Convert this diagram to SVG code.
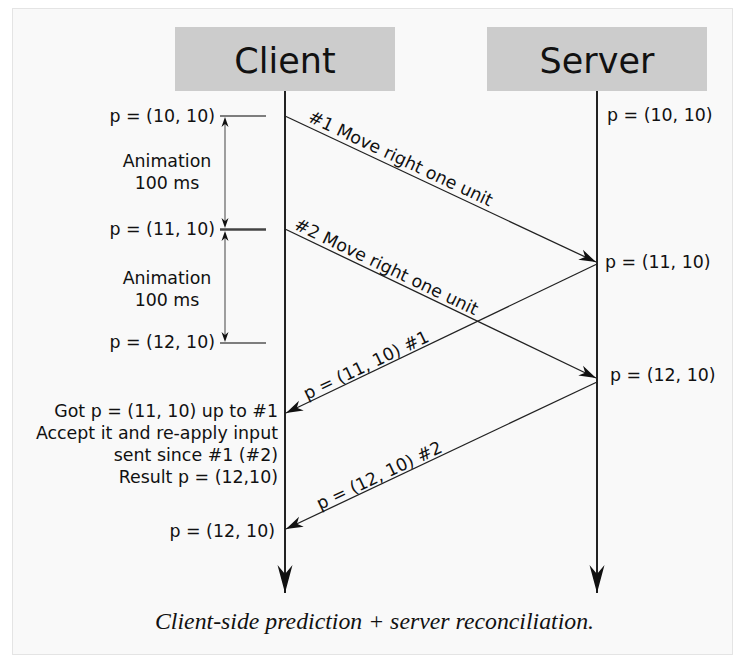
<svg xmlns="http://www.w3.org/2000/svg" width="738" height="658" viewBox="0 0 738 658">
<style>
.t{font-family:"DejaVu Sans",sans-serif;font-size:17.4px;fill:#111}
.h{font-family:"DejaVu Sans",sans-serif;font-size:35px;fill:#111;text-anchor:middle}
.r{text-anchor:end}
.m{text-anchor:middle}
.life{stroke:#222;stroke-width:2;fill:none}
.msg{stroke:#222;stroke-width:1.3;fill:none}
.tick{stroke:#555;stroke-width:1.3}
.dim{stroke:#888;stroke-width:1.6}
</style>
<defs>
<marker id="ah" markerUnits="userSpaceOnUse" viewBox="-18 -6 19 12" refX="0" refY="0" markerWidth="19" markerHeight="12" orient="auto">
<path d="M0,0 L-17,-5.5 L-12,0 L-17,5.5 Z" fill="#111"/>
</marker>
<marker id="big" markerUnits="userSpaceOnUse" viewBox="-28 -8 29 16" refX="0" refY="0" markerWidth="29" markerHeight="16" orient="auto">
<path d="M0,0 L-28,-7.5 L-19,0 L-28,7.5 Z" fill="#111"/>
</marker>
<marker id="sm" markerUnits="userSpaceOnUse" viewBox="-10 -4 11 8" refX="0" refY="0" markerWidth="11" markerHeight="8" orient="auto">
<path d="M0,0 L-10,-3.5 L-7,0 L-10,3.5 Z" fill="#111"/>
</marker>
</defs>
<rect x="0" y="0" width="738" height="658" fill="#fff"/>
<rect x="12.5" y="8.5" width="720" height="646" fill="#f9f9f9" stroke="#ccc" stroke-width="1" stroke-dasharray="1,1"/>

<g id="client">
<rect x="175" y="27" width="220" height="64" fill="#ccc"/>
<text class="h" x="285" y="73">Client</text>
</g>
<g id="server">
<rect x="487" y="27" width="220" height="64" fill="#ccc"/>
<text class="h" x="597" y="73">Server</text>
</g>

<g id="connectors">
<line class="life" x1="285" y1="91" x2="285" y2="593" marker-end="url(#big)"/>
<line class="life" x1="597" y1="91" x2="597" y2="593" marker-end="url(#big)"/>
<line class="msg" x1="285" y1="116" x2="596" y2="262" marker-end="url(#ah)"/>
<line class="msg" x1="285" y1="229" x2="596" y2="378" marker-end="url(#ah)"/>
<line class="msg" x1="597" y1="264" x2="286" y2="413" marker-end="url(#ah)"/>
<line class="msg" x1="597" y1="382" x2="286" y2="529" marker-end="url(#ah)"/>
<line class="tick" x1="220" y1="116" x2="266" y2="116"/>
<line x1="220" y1="229.5" x2="266" y2="229.5" stroke="#444" stroke-width="2.4"/>
<line class="tick" x1="220" y1="343" x2="266" y2="343"/>
<line class="dim" x1="225" y1="123" x2="225" y2="222"/>
<line class="dim" x1="225" y1="236" x2="225" y2="336"/>
<line x1="225" y1="140" x2="225" y2="117" stroke="none" marker-end="url(#sm)"/>
<line x1="225" y1="205" x2="225" y2="228" stroke="none" marker-end="url(#sm)"/>
<line x1="225" y1="253" x2="225" y2="231" stroke="none" marker-end="url(#sm)"/>
<line x1="225" y1="320" x2="225" y2="342" stroke="none" marker-end="url(#sm)"/>
</g>

<g id="labels">
<text class="t r" x="215" y="122">p = (10, 10)</text>
<text class="t r" x="215" y="235">p = (11, 10)</text>
<text class="t r" x="215" y="348">p = (12, 10)</text>
<text class="t m" x="167" y="167">Animation</text>
<text class="t m" x="167" y="189">100 ms</text>
<text class="t m" x="167" y="284">Animation</text>
<text class="t m" x="167" y="306">100 ms</text>
<text class="t" x="607" y="121">p = (10, 10)</text>
<text class="t" x="605" y="268">p = (11, 10)</text>
<text class="t" x="610" y="381">p = (12, 10)</text>
<text class="t r" x="278" y="417">Got p = (11, 10) up to #1</text>
<text class="t r" x="278" y="439">Accept it and re-apply input</text>
<text class="t r" x="278" y="461">sent since #1 (#2)</text>
<text class="t r" x="278" y="483">Result p = (12,10)</text>
<text class="t r" x="275" y="537">p = (12, 10)</text>
<text class="t" x="307" y="121" transform="rotate(25.2 307 121)">#1 Move right one unit</text>
<text class="t" x="293" y="228.5" transform="rotate(25.6 293 228.5)">#2 Move right one unit</text>
<text class="t" x="307" y="400" transform="rotate(-25.6 307 400)">p = (11, 10) #1</text>
<text class="t" x="320" y="510" transform="rotate(-25.3 320 510)">p = (12, 10) #2</text>
</g>

<text x="374.5" y="629" font-family="'Liberation Serif',serif" font-style="italic" font-size="23" fill="#111" text-anchor="middle" textLength="439" lengthAdjust="spacingAndGlyphs">Client-side prediction + server reconciliation.</text>
</svg>
